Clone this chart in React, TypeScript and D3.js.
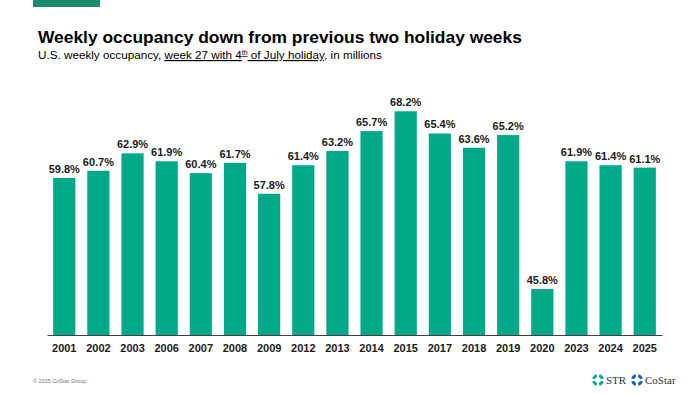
import React, { useEffect, useRef } from 'react';
import * as d3 from 'd3';

const years = ['2001', '2002', '2003', '2006', '2007', '2008', '2009', '2012', '2013', '2014', '2015', '2017', '2018', '2019', '2020', '2023', '2024', '2025'];
const occupancy = [59.8, 60.7, 62.9, 61.9, 60.4, 61.7, 57.8, 61.4, 63.2, 65.7, 68.2, 65.4, 63.6, 65.2, 45.8, 61.9, 61.4, 61.1];

const W = 700;
const H = 394;

const App = () => {
  const svgRef = useRef<SVGSVGElement>(null);

  useEffect(() => {
    const svg = d3.select(svgRef.current);
    svg.selectAll('*').remove();

    const font = 'Arial, "Liberation Sans", sans-serif';

    // top accent bar
    svg.append('rect').attr('x', 33).attr('y', 0).attr('width', 67).attr('height', 7).attr('fill', '#1e8a72');

    // title + subtitle
    svg.append('text')
      .attr('x', 38).attr('y', 43)
      .attr('font-family', font).attr('font-size', 17.4).attr('font-weight', 'bold')
      .attr('fill', '#000')
      .text('Weekly occupancy down from previous two holiday weeks');

    const sub = svg.append('text')
      .attr('x', 38).attr('y', 59)
      .attr('font-family', font).attr('font-size', 11.7)
      .attr('fill', '#000');
    sub.append('tspan').text('U.S. weekly occupancy, ');
    sub.append('tspan').attr('text-decoration', 'underline').text('week 27 with 4');
    sub.append('tspan').attr('text-decoration', 'underline').attr('font-size', 7).attr('dy', -4).text('th');
    sub.append('tspan').attr('text-decoration', 'underline').attr('dy', 4).text(' of July holiday');
    sub.append('tspan').text(', in millions');

    // chart
    const x = d3.scaleBand().domain(years).range([47, 662]).paddingInner(0.35).paddingOuter(0.18);
    const y = d3.scaleLinear().domain([40, 70]).range([335, 97]);

    const g = svg.append('g');
    g.selectAll('rect.bar')
      .data(occupancy)
      .join('rect')
      .attr('class', 'bar')
      .attr('x', (d, i) => x(years[i])!)
      .attr('width', x.bandwidth())
      .attr('y', d => y(d))
      .attr('height', d => y(40) - y(d))
      .attr('fill', '#00a88a');

    g.selectAll('text.lbl')
      .data(occupancy)
      .join('text')
      .attr('class', 'lbl')
      .attr('x', (d, i) => x(years[i])! + x.bandwidth() / 2)
      .attr('y', d => y(d) - 5)
      .attr('text-anchor', 'middle')
      .attr('font-family', font).attr('font-size', 11).attr('font-weight', 'bold')
      .attr('fill', '#1a1a1a')
      .text(d => d.toFixed(1) + '%');

    const axis = svg.append('g')
      .attr('transform', 'translate(0,335)')
      .call(d3.axisBottom(x).tickSize(0).tickPadding(9));
    axis.select('.domain').attr('stroke', '#404040').attr('stroke-width', 1);
    axis.selectAll('text')
      .attr('font-family', font).attr('font-size', 11).attr('font-weight', 'bold').attr('fill', '#1a1a1a');

    // footer
    svg.append('text')
      .attr('x', 33).attr('y', 383)
      .attr('font-family', font).attr('font-size', 5.5).attr('fill', '#777')
      .text('\u00a9 2025 CoStar Group');

    const logo = (cx: number, cy: number, color: string) => {
      const lg = svg.append('g').attr('transform', `translate(${cx},${cy})`);
      for (let k = 0; k < 4; k++) {
        lg.append('path')
          .attr('d', d3.arc()({ innerRadius: 3, outerRadius: 6, startAngle: (k * Math.PI) / 2 + 0.25, endAngle: ((k + 1) * Math.PI) / 2 - 0.25 }) as string)
          .attr('fill', color);
      }
    };
    logo(598, 380, '#00a88a');
    svg.append('text').attr('x', 606).attr('y', 384)
      .attr('font-family', '"Liberation Serif", serif').attr('font-size', 11).attr('fill', '#333').text('STR');
    logo(637, 380, '#1a5fb4');
    svg.append('text').attr('x', 645).attr('y', 384)
      .attr('font-family', '"Liberation Serif", serif').attr('font-size', 11).attr('fill', '#333').text('CoStar');
  }, []);

  return (
    <svg ref={svgRef} width={W} height={H} style={{ position: 'absolute', left: 0, top: 0, background: '#fff' }} />
  );
};

export default App;
